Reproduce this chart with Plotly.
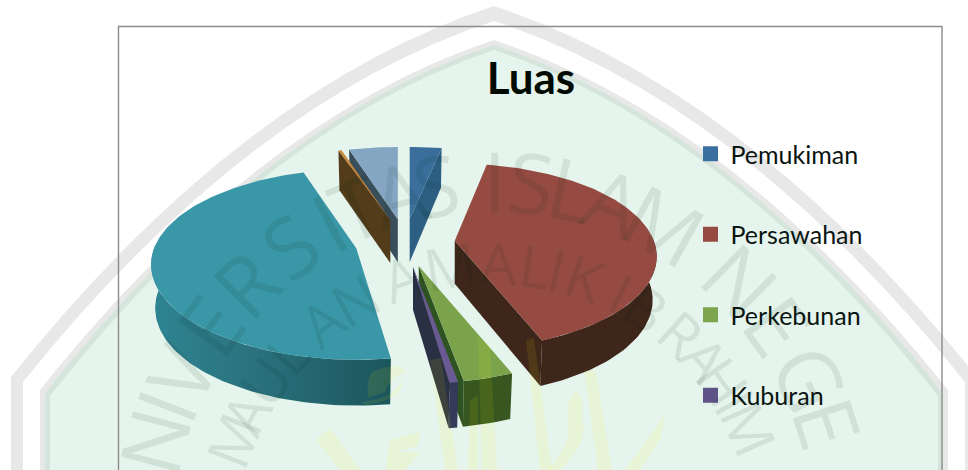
import math
import plotly.graph_objects as go

# ---------- data ----------
categories = ["Pemukiman", "Persawahan", "Perkebunan", "Kuburan"]
hidden_categories = ["Kategori 5", "Kategori 6", "Kategori 7"]   # legend entries cut off by the crop
shares = [3.0, 41.0, 3.2, 0.55, 47.4, 0.3, 4.6]                  # percent, clockwise from 12 o'clock
title_text = "Luas"

top_colors = ["#3a6f9c", "#954b41", "#7ba34c", "#6a5a94", "#3a97a7", "#c8873a", "#84a6c2"]
wall_colors = ["#2c5f82", "#3e261b", "#2f5222", "#2a3044", "#2e7f8c", "#523c1a", "#3a4f5c"]
outer_colors = ["#2c5f82", "#3e261b", "#38561f", "#343a58", None, "#523c1a", "#3a4f5c"]
swatch_colors = ["#3b6f9f", "#954b41", "#7ca54d", "#5f5488"]
cut_wall = ["end", "end", "end", "end", None, "start", "start"]
draw_order = [6, 5, 0, 4, 1, 2, 3]

W, H = 968, 470
CX, CY, EX, EY = 405, 243, 50, 24      # pie centre and explosion
RX, RY, K = 199, 91, 0.17              # ellipse radii and perspective
NEAR = 0.003                           # exploded toward viewer looks larger


def depth(v):
    return 43 - 5 * v


def rim(deg, apex, bottom=False):
    a = math.radians(deg)
    u, v = math.sin(a), math.cos(a)
    den = 1 + K * v
    s = 1 + (apex[1] - CY) * NEAR
    x, y = max(s, 1) * RX * u / den, -s * RY * v / den
    if bottom:
        x, y = x * 0.98, y * 0.98 + depth(v)
    return apex[0] + x, apex[1] + y


def poly(fig, pts, color=None, gradient=None):
    xs = [p[0] for p in pts] + [pts[0][0]]
    ys = [p[1] for p in pts] + [pts[0][1]]
    kw = dict(fillgradient=gradient) if gradient else dict(fillcolor=color)
    fig.add_trace(go.Scatter(x=xs, y=ys, mode="lines", fill="toself", line=dict(width=0),
                             hoverinfo="skip", showlegend=False, **kw))


fig = go.Figure()

# ---------- exploded 3-D pie ----------
total = sum(shares)
bounds = [0]
for s in shares:
    bounds.append(bounds[-1] + s / total * 360)

for i in draw_order:
    a0, a1 = bounds[i], bounds[i + 1]
    mid = math.radians((a0 + a1) / 2)
    apex = (CX + EX * math.sin(mid), CY - EY * math.cos(mid))
    apex_b = (apex[0], apex[1] + depth(0))
    n = max(3, int((a1 - a0) / 1.5))
    angs = [a0 + (a1 - a0) * j / n for j in range(n + 1)]
    if cut_wall[i]:
        e = a1 if cut_wall[i] == "end" else a0
        poly(fig, [apex, rim(e, apex), rim(e, apex, True), apex_b], wall_colors[i])
    near = [a for a in angs if 85 <= a <= 272]
    if len(near) > 1:
        pts = [rim(a, apex) for a in near] + [rim(a, apex, True) for a in reversed(near)]
        if i == 4:
            poly(fig, pts, gradient=dict(type="horizontal",
                 colorscale=[[0, "#2f8492"], [0.45, "#2a717d"], [1, "#1b555c"]]))
        else:
            poly(fig, pts, outer_colors[i])
    poly(fig, [apex] + [rim(a, apex) for a in angs], top_colors[i])

# ---------- legend keys (only the four visible entries) ----------
for name, col in zip(categories, swatch_colors):
    fig.add_trace(go.Scatter(x=[None], y=[None], mode="markers", name=name, legendgroup=name,
                             marker=dict(symbol="square", size=15, color=col, line=dict(width=0))))


# ---------- watermark ----------
def arch(L, C, A, mid=494):
    R = 2 * mid - L
    cx, cy = mid - 0.524 * (mid - L), A + 0.225 * (C - A)
    return (f"M {L},520 L {L},{C} Q {cx},{cy} {mid},{A} "
            f"Q {2 * mid - cx},{cy} {R},{C} L {R},520 Z")


bands = [(11, 377, 6, "#e8e8e8"), (23, 382, 21, "#ffffff"), (40, 390, 40, "#e8e8e8"),
         (45, 393, 45, "#d5e5dc"), (50, 396, 50, "#e5f4ec")]
shapes = [dict(type="path", path=arch(l, c, a), fillcolor=col, line=dict(width=0),
               layer="below", xref="x", yref="y") for l, c, a, col in bands]

callig = [
    "M 430,360 L 441,358 L 458,470 L 445,470 Z",
    "M 478,338 L 490,345 L 497,470 L 482,470 Z",
    "M 526,340 L 534,338 L 552,470 L 540,470 Z",
    "M 584,370 L 596,372 L 612,470 L 598,470 Z",
    "M 568,420 Q 566,400 575,392 Q 585,395 582,420 Q 590,440 560,470 L 548,470 Q 572,445 568,420 Z",
    "M 372,372 Q 400,360 406,372 Q 390,378 385,392 L 368,398 Q 366,380 372,372 Z",
    "M 362,402 Q 395,398 402,380 Q 405,400 365,405 Z",
    "M 316,440 L 330,428 L 360,470 L 340,470 Z",
    "M 390,440 L 420,432 L 418,446 L 395,452 L 420,452 L 405,470 L 386,470 Z",
    "M 470,400 L 478,395 L 478,470 L 468,470 Z",
    "M 625,470 L 665,415 L 660,440 L 640,470 Z",
]
for p in callig:
    shapes.append(dict(type="path", path=p, fillcolor="rgba(255,250,0,0.09)",
                       line=dict(width=0), layer="above", xref="x", yref="y"))

shapes.append(dict(type="rect", x0=118.5, y0=26.5, x1=942, y1=520, xref="x", yref="y",
                   line=dict(color="#8c8c8c", width=1.4), fillcolor="rgba(0,0,0,0)", layer="above"))

annotations = []
outer_letters = list("NIVERSITAS") + list("ISLAM") + list("NEGER")
outer_angles = [-75, -69, -63, -54, -45, -35.5, -28, -23, -15.7, -9.5, 0, 6, 12.7, 20, 29, 44.5, 54, 64, 72, 80]
inner_letters = list("MAULANA") + list("MALIK") + list("IBRAHIM")
inner_angles = [-68.6, -62.6, -55, -47.8, -38, -29.8, -19.3, -9, 1, 8.5, 13, 19, 27, 33, 42, 49, 55, 60, 66]
for letters, angles, (r, cy, size) in [(outer_letters, outer_angles, (352, 532, 84)),
                                       (inner_letters, inner_angles, (280, 542, 58))]:
    for ch, ang in zip(letters, angles):
        t = math.radians(ang)
        annotations.append(dict(x=494 + r * math.sin(t), y=cy - r * math.cos(t), text=ch,
                                textangle=ang, showarrow=False, xref="x", yref="y",
                                font=dict(family="Open Sans", size=size, color="rgba(0,30,20,0.09)")))

fig.update_layout(
    width=W, height=H, autosize=False,
    margin=dict(l=0, r=0, t=0, b=0),
    paper_bgcolor="#ffffff", plot_bgcolor="rgba(0,0,0,0)",
    xaxis=dict(range=[0, W], visible=False, fixedrange=True),
    yaxis=dict(range=[H, 0], visible=False, fixedrange=True),
    title=dict(text=f"<b>{title_text}</b>", x=531 / W, xanchor="center", xref="paper",
               y=1 - 79 / H, yanchor="middle", yref="paper",
               font=dict(family="Lato", size=44, color="#000a00")),
    legend=dict(x=(710.5 - 20) / W, xanchor="left", y=1 - 131 / H, yanchor="top",
                tracegroupgap=45, traceorder="grouped", bgcolor="rgba(0,0,0,0)",
                font=dict(family="Lato", size=25, color="#0a1410"), itemclick=False,
                itemdoubleclick=False),
    shapes=shapes, annotations=annotations,
)
fig.write_html("out.html", post_script="document.body.style.margin='0';",
               config=dict(displayModeBar=False))
